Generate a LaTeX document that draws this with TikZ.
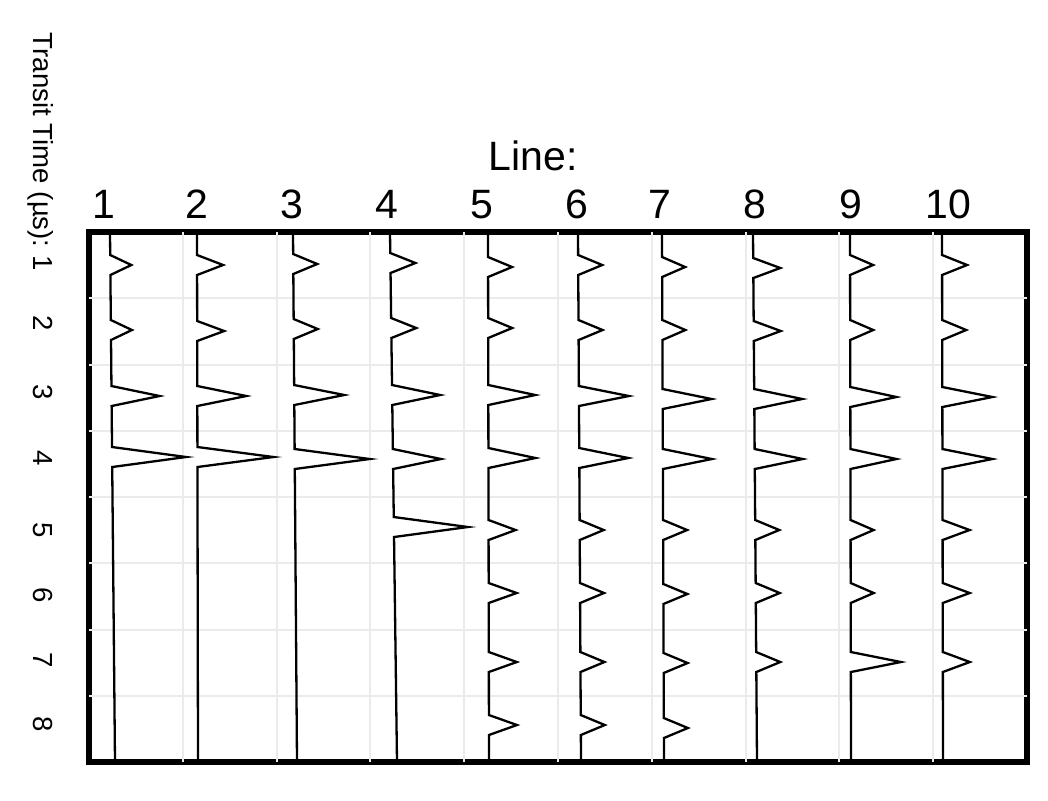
\documentclass[tikz,border=0pt]{standalone}
\usepackage{fontspec}
\setmainfont{Liberation Sans}
\tikzset{
	frame/.style={line width=2.6pt, black},
	gridline/.style={line width=1pt, black!8},
	trace/.style={line width=1.15pt, black, line join=miter},
	collabel/.style={anchor=base, inner sep=0pt, font=\fontsize{20.5}{24}\selectfont},
	rowlabel/.style={rotate=-90, anchor=base, inner sep=0pt, font=\fontsize{13.8}{16}\selectfont}
}
\def\trace(#1:#2)#3{\draw[trace] (#1,232) \foreach \c/\a in {#3} { -- ({#1+(#2-#1)*(\c-242)/530},\c-10) -- ({#1+(#2-#1)*(\c-232)/530+\a},\c) -- ({#1+(#2-#1)*(\c-222)/530},\c+10)} -- (#2,762);}

\begin{document}
\begin{tikzpicture}[x=0.5pt,y=-0.5pt]
				\useasboundingbox (0,0) rectangle (1048,800);
				
				\draw[frame] (89,232) rectangle (1027,762);
				\foreach \i in {1,...,9} \draw[gridline] ({89+93.8*\i},232) -- ({89+93.8*\i},762);
				\foreach \i in {1,...,7} \draw[gridline] (89,{232+66.25*\i}) -- (1027,{232+66.25*\i});
				
				\trace(110:115){265/21,330/21,396/48,457/74}
				\trace(197:198){265/26,331/27,396/49,457/76}
				\trace(293:297){264/24,329/24,395/50,459/75}
				\trace(390:397){263/25,328/25,395/48,459/48,527/74}
				\trace(488:489){267/24,328/24,395/47,458/47,530/27,593/28,662/28,725/28}
				\trace(578:581){265/24,330/24,396/50,458/49,530/24,593/24,662/24,725/24}
				\trace(662:664){267/23,330/23,399/49,459/49,530/24,594/24,663/24,728/24}
				\trace(753:757){268/27,331/27,399/48,459/48,530/24,593/24,662/24}
				\trace(850:851){265/23,330/23,397/46,459/46,530/23,593/23,662/50}
				\trace(942:943){265/25,330/24,397/50,459/50,530/27,593/27,662/27}
				
				\node[collabel] (line) at (533,170) {Line:};
				\foreach \i/\x in {1/104,2/197,3/292,4/387,5/482,6/577,7/660,8/755,9/851,10/948}
					\node[collabel] (col\i) at (\x,218) {\i};
				
				\node[rowlabel, anchor=base east] (ytitle) at (33,248) {Transit Time (µs):};
				\foreach \i/\y in {1/263,2/323,3/392,4/458,5/530,6/595,7/660,8/724}
					\node[rowlabel] (row\i) at (33,\y) {\i};
\end{tikzpicture}
\end{document}
